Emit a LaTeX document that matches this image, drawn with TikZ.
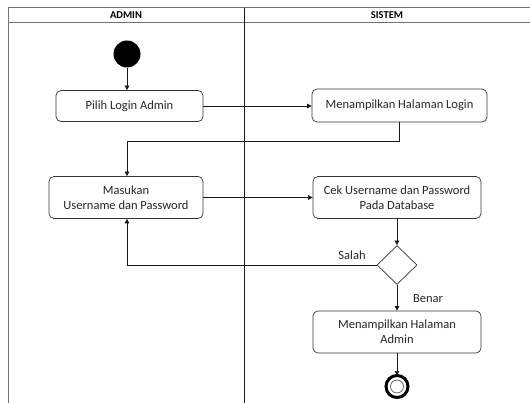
\documentclass[tikz,border=0pt]{standalone}
\usepackage{fontspec}
\setmainfont{Carlito}
\usetikzlibrary{shapes.geometric,arrows.meta,calc}
\begin{document}
\begin{tikzpicture}[x=1pt,y=-1pt,
  every node/.style={font=\fontsize{12.5}{15}\selectfont, text=black!85},
  act/.style={draw=black!80, rounded corners=5pt, align=center, inner sep=0pt, line width=0.7pt},
  flow/.style={draw=black!90, line width=0.7pt, -{Triangle[width=4.5pt,length=4.5pt]}},
  lane/.style={line width=1pt},
  hdr/.style={font=\fontsize{10.5}{12}\selectfont\bfseries, text=black}]
\useasboundingbox (0,0) rectangle (530,403);
% swimlane frame
\draw[lane, draw=black!55] (8,8) -- (530,8);
\draw[lane, draw=black!55] (8,23) -- (530,23);
\draw[lane, draw=black!55] (8,8) -- (8,403);
\draw[lane, draw=black!90] (244,8) -- (244,403);
\node[hdr] (hA) at (126,15.5) {ADMIN};
\node[hdr] (hS) at (387,15.5) {SISTEM};
% nodes
\node[circle, fill=black, minimum size=27pt, inner sep=0pt] (start) at (127,54) {};
\node[act, minimum width=147pt, minimum height=31pt] (b1) at (129.5,106) {Pilih Login Admin};
\node[act, minimum width=175pt, minimum height=33pt] (b2) at (399.5,105.5) {Menampilkan Halaman Login};
\node[act, minimum width=154pt, minimum height=42pt] (b3) at (126,197.5) {Masukan\\Username dan Password};
\node[act, minimum width=168pt, minimum height=42pt] (b4) at (397,197.5) {Cek Username dan Password\\Pada Database};
\node[diamond, draw=black!80, line width=0.7pt, minimum width=40pt, minimum height=39pt, inner sep=0pt] (d) at (397,265) {};
\node[act, minimum width=168pt, minimum height=42pt] (b5) at (397,332) {Menampilkan Halaman\\Admin};
\node[circle, draw=black, line width=3pt, minimum size=22pt, inner sep=0pt] (end) at (397,386.5) {};
\node[circle, draw=black!60, line width=0.8pt, minimum size=13pt, inner sep=0pt] (endin) at (end) {};
\node (salah) at (352,255) {Salah};
\node (benar) at (428,299) {Benar};
\coordinate (m1) at (127,141);
% connectors
\draw[flow] (start.south) -- (start.south |- b1.north);
\draw[flow] (b1.east) -- (b1.east -| b2.west);
\draw[flow] (b2.south) |- (m1) -- (m1 |- b3.north);
\draw[flow] (b3.east) -- (b3.east -| b4.west);
\draw[flow] (b4.south) -- (d.north);
\draw[flow] (d.west) -| (m1 |- b3.south);
\draw[flow] (d.south) -- (b5.north);
\draw[flow] (b5.south) -- ([yshift=-1.5pt]end.north);
\end{tikzpicture}
\end{document}
